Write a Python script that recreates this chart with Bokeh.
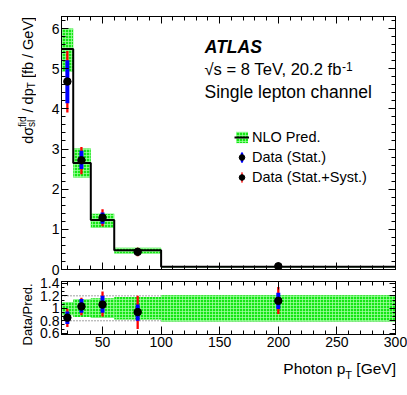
import math
from bokeh.plotting import figure
from bokeh.models import (ColumnDataSource, Range1d, LinearAxis, FixedTicker, Label,
                          Legend, LegendItem, Span)
from bokeh.layouts import column, row
from bokeh.embed import file_html
from bokeh.resources import INLINE

# ---------------- data ----------------
bin_edges = [15, 25, 40, 60, 100, 300]
nlo_pred = [5.49, 2.65, 1.23, 0.48, 0.07]
nlo_lo = [4.93, 2.29, 1.04, 0.40, 0.055]
nlo_hi = [6.00, 3.01, 1.39, 0.54, 0.085]

data_pt = [20, 32, 50, 80, 200]
data_val = [4.68, 2.72, 1.29, 0.44, 0.08]
data_stat_lo = [4.14, 2.50, 1.14, 0.38, 0.072]
data_stat_hi = [5.21, 2.96, 1.42, 0.50, 0.088]
data_tot_lo = [3.91, 2.37, 1.08, 0.33, 0.065]
data_tot_hi = [5.44, 3.05, 1.50, 0.54, 0.095]

ratio_val = [0.85, 1.03, 1.06, 0.94, 1.12]
ratio_stat_lo = [0.75, 0.93, 0.93, 0.80, 0.99]
ratio_stat_hi = [0.95, 1.15, 1.20, 1.06, 1.25]
ratio_tot_lo = [0.70, 0.89, 0.87, 0.67, 0.91]
ratio_tot_hi = [0.99, 1.17, 1.27, 1.20, 1.34]
ratio_band_lo = [0.89, 0.86, 0.85, 0.82, 0.79]
ratio_band_hi = [1.10, 1.14, 1.16, 1.18, 1.21]
ratio_ref_lines = [0.8, 1.0, 1.2]

x_ticks = [50, 100, 150, 200, 250, 300]
x_minor_ticks = [20, 30, 40, 60, 70, 80, 90, 110, 120, 130, 140, 160, 170, 180, 190,
                 210, 220, 230, 240, 260, 270, 280, 290]
top_y_ticks = [0, 1, 2, 3, 4, 5, 6]
top_y_minor = [0.2, 0.4, 0.6, 0.8, 1.2, 1.4, 1.6, 1.8, 2.2, 2.4, 2.6, 2.8, 3.2, 3.4, 3.6, 3.8,
               4.2, 4.4, 4.6, 4.8, 5.2, 5.4, 5.6, 5.8, 6.2]
ratio_ticks = [0.6, 0.8, 1.0, 1.2, 1.4]
ratio_tick_labels = ["0.6", "0.8", "1", "1.2", "1.4"]
ratio_minor = [0.667, 0.733, 0.867, 0.933, 1.067, 1.133, 1.267, 1.333]

# ---------------- styling helpers ----------------
FONT = "Liberation Sans"
GREEN = "#14e614"
HATCH = "#a8ffa8"
TICK_FS = "14px"
ADV = {' ': 278, '/': 278, '[': 278, ']': 278, '.': 278, ',': 278, '=': 584, '-': 333,
       '√': 549, 'σ': 600, 'a': 556, 'b': 556, 'd': 556, 'e': 556, 'f': 278, 'h': 556,
       'i': 222, 'l': 222, 'n': 556, 'o': 556, 'p': 556, 's': 500, 't': 278, 'G': 778,
       'P': 667, 'T': 611, 'V': 667, '8': 556, '2': 556, '0': 556}


def tw(s, size):
    return sum(ADV.get(c, 556) for c in s) * size / 1000.0


def base_fig(fh, left, right, top, bottom, yr):
    f = figure(frame_width=334, frame_height=fh, min_border_left=left, min_border_right=right,
               min_border_top=top, min_border_bottom=bottom,
               x_range=Range1d(15, 300), y_range=yr,
               x_axis_location=None, y_axis_location=None,
               output_backend="svg", toolbar_location=None, tools="")
    f.grid.visible = False
    f.outline_line_color = "black"
    f.outline_line_width = 1
    f.outline_line_alpha = 1
    f.background_fill_color = "white"
    f.border_fill_color = "white"
    return f


def text_fig(w, h):
    f = figure(width=w, height=h, min_border=0, x_axis_location=None, y_axis_location=None,
               output_backend="svg", toolbar_location=None, tools="")
    f.grid.visible = False
    f.outline_line_color = None
    f.background_fill_color = "white"
    f.border_fill_color = "white"
    return f


def tick_only(fig, side, majors, minors, lmaj, lmin):
    # inward tick marks only (no labels): zero-size axes next to the frame
    for vals, ln in ((minors, lmin), (majors, lmaj)):
        ax = LinearAxis(ticker=FixedTicker(ticks=[], minor_ticks=vals))
        ax.minor_tick_in = ln
        ax.minor_tick_out = 0
        ax.major_tick_in = 0
        ax.major_tick_out = 0
        ax.minor_tick_line_color = "black"
        ax.axis_line_color = "black"
        ax.major_label_standoff = 0
        fig.add_layout(ax, side)


def labeled_axis(fig, side, ticks, minors, lmaj, lmin, overrides=None):
    # tick marks first (innermost), then a tick-less axis that carries the labels
    tick_only(fig, side, ticks, minors, lmaj, lmin)
    ax = LinearAxis(ticker=FixedTicker(ticks=ticks, minor_ticks=[]))
    ax.major_tick_in = 0
    ax.major_tick_out = 0
    ax.minor_tick_in = 0
    ax.minor_tick_out = 0
    ax.major_tick_line_color = None
    ax.minor_tick_line_color = None
    ax.axis_line_color = "black"
    ax.major_label_text_font = FONT
    ax.major_label_text_font_size = TICK_FS
    ax.major_label_text_color = "black"
    ax.major_label_standoff = 2
    if overrides:
        ax.major_label_overrides = overrides
    fig.add_layout(ax, side)


def lab(fig, text, x, y, size, angle=0.0, fstyle="normal", align="left"):
    lead = len(text) - len(text.lstrip(" "))
    shift = tw(" " * lead, size)
    t = text.strip(" ")
    if angle:
        y = y + shift
    else:
        x = x + shift
    fig.add_layout(Label(x=x, y=y, x_units="screen", y_units="screen", text=t, angle=angle,
                         text_font=FONT, text_font_size=f"{size}px",
                         text_font_style=fstyle, text_color="black", text_align=align,
                         text_baseline="alphabetic"))


bins = ColumnDataSource(dict(left=bin_edges[:-1], right=bin_edges[1:], lo=nlo_lo, hi=nlo_hi,
                             rlo=ratio_band_lo, rhi=ratio_band_hi))
pts = ColumnDataSource(dict(x=data_pt, y=data_val, slo=data_stat_lo, shi=data_stat_hi,
                            tlo=data_tot_lo, thi=data_tot_hi, r=ratio_val,
                            rslo=ratio_stat_lo, rshi=ratio_stat_hi,
                            rtlo=ratio_tot_lo, rthi=ratio_tot_hi))

W1 = 36          # width of the left title strip
A = math.pi / 2

# ---------------- top panel ----------------
p1 = base_fig(253, 61 - W1, 4, 16, 7, Range1d(0, 6.3))
labeled_axis(p1, "left", top_y_ticks, top_y_minor, 7, 4)
tick_only(p1, "right", top_y_ticks, top_y_minor, 7, 4)
tick_only(p1, "below", x_ticks, x_minor_ticks, 7, 4)
tick_only(p1, "above", x_ticks, x_minor_ticks, 7, 4)

band_r = p1.quad(left="left", right="right", bottom="lo", top="hi", source=bins,
                 fill_color=GREEN, line_alpha=0, hatch_pattern="+", hatch_color=HATCH,
                 hatch_scale=3, hatch_weight=1, hatch_alpha=0.7)
step_r = p1.step(x=bin_edges, y=nlo_pred + nlo_pred[-1:], mode="after",
                 line_color="black", line_width=2)
p1.segment(x0="x", y0="tlo", x1="x", y1="thi", source=pts, line_color="#ff0000",
           line_width=2.3, line_cap="butt")
p1.segment(x0="x", y0="slo", x1="x", y1="shi", source=pts, line_color="#0000ff",
           line_width=4, line_cap="butt")
# tiny vertical ellipses under the markers: they give the legend its vertical error-bar glyphs
ell_b = p1.ellipse(x="x", y="y", width=0.35, height=1.2, width_units="screen",
                   height_units="screen", source=pts, fill_color="#0000ff", line_alpha=0)
ell_r = p1.ellipse(x="x", y="y", width=0.2, height=1.2, width_units="screen",
                   height_units="screen", source=pts, fill_color="#ff0000", line_alpha=0)
dot_r = p1.scatter(x="x", y="y", source=pts, size=7.5, fill_color="black", line_color="black")

legend = Legend(items=[
    LegendItem(label="NLO Pred.", renderers=[band_r, step_r]),
    LegendItem(label="Data (Stat.)", renderers=[ell_b, dot_r]),
    LegendItem(label="Data (Stat.+Syst.)", renderers=[ell_r, dot_r]),
], location=(173, 84), orientation="vertical", glyph_width=15, glyph_height=14,
    label_height=14, spacing=4, padding=0, margin=0, label_standoff=3,
    border_line_alpha=0, background_fill_alpha=0,
    label_text_font=FONT, label_text_font_size="14.5px", label_text_color="black")
p1.add_layout(legend)

lab(p1, "ATLAS", 143.3, 222.3, 17.5, fstyle="bold italic")
energy = "√s = 8 TeV, 20.2 fb"
lab(p1, energy, 143, 200, 16.6)
lab(p1, "-1", 143 + tw(energy, 16.6) - 3, 203, 12)
lab(p1, "Single lepton channel", 143, 177.3, 17.5)

# ---------------- ratio panel ----------------
p2 = base_fig(53, 61 - W1, 12, 5, 20, Range1d(0.58, 1.43))
labeled_axis(p2, "left", ratio_ticks, ratio_minor, 6, 3,
             overrides=dict(zip(ratio_ticks, ratio_tick_labels)))
labeled_axis(p2, "below", x_ticks, x_minor_ticks, 8, 4)
tick_only(p2, "above", x_ticks, x_minor_ticks, 8, 4)
tick_only(p2, "right", ratio_ticks, ratio_minor, 6, 3)

for v in ratio_ref_lines:
    p2.add_layout(Span(location=v, dimension="width", line_color="#444444",
                       line_dash="1 2", line_width=1, level="underlay"))

p2.quad(left="left", right="right", bottom="rlo", top="rhi", source=bins,
        fill_color=GREEN, line_alpha=0, hatch_pattern="+", hatch_color=HATCH,
        hatch_scale=3, hatch_weight=1, hatch_alpha=0.7)
p2.segment(x0="x", y0="rtlo", x1="x", y1="rthi", source=pts, line_color="#ff0000",
           line_width=2.3, line_cap="butt")
p2.segment(x0="x", y0="rslo", x1="x", y1="rshi", source=pts, line_color="#0000ff",
           line_width=4, line_cap="butt")
p2.scatter(x="x", y="r", source=pts, size=7.5, fill_color="black", line_color="black")

# ---------------- left title strip (both panels) ----------------
HL = 354
fl = text_fig(W1, HL)
xb, yy, m, s = 27, HL - 143.3, 14.5, 10
lab(fl, "dσ", xb, yy, m, angle=A)
yy += tw("dσ", m)
lab(fl, "fid", xb - 5, yy, s, angle=A)
lab(fl, "sl", xb + 3.5, yy, s, angle=A)
yy += max(tw("fid", s), tw("sl", s))
lab(fl, " / dp", xb, yy, m, angle=A)
yy += tw(" / dp", m)
lab(fl, "T", xb + 3.5, yy, s, angle=A)
yy += tw("T", s)
lab(fl, " [fb / GeV]", xb, yy, m, angle=A)
lab(fl, "Data/Pred.", 26.5, HL - 345, 13, angle=A)

# ---------------- x-axis title strip ----------------
HC = 30
fc = text_fig(407, HC)
m2, s2 = 15.5, 11
total = tw("Photon p", m2) + tw("T", s2) + tw(" [GeV]", m2)
x0 = 395.5 - total
base_y = HC - (368.3 - 354)
lab(fc, "Photon p", x0, base_y, m2)
x0 += tw("Photon p", m2)
lab(fc, "T", x0, base_y - 6, s2)
x0 += tw("T", s2)
lab(fc, " [GeV]", x0, base_y, m2)

layout = column(row(fl, column(p1, p2, spacing=0), spacing=0), fc, spacing=0)
open("out.html", "w").write(file_html(layout, INLINE))
